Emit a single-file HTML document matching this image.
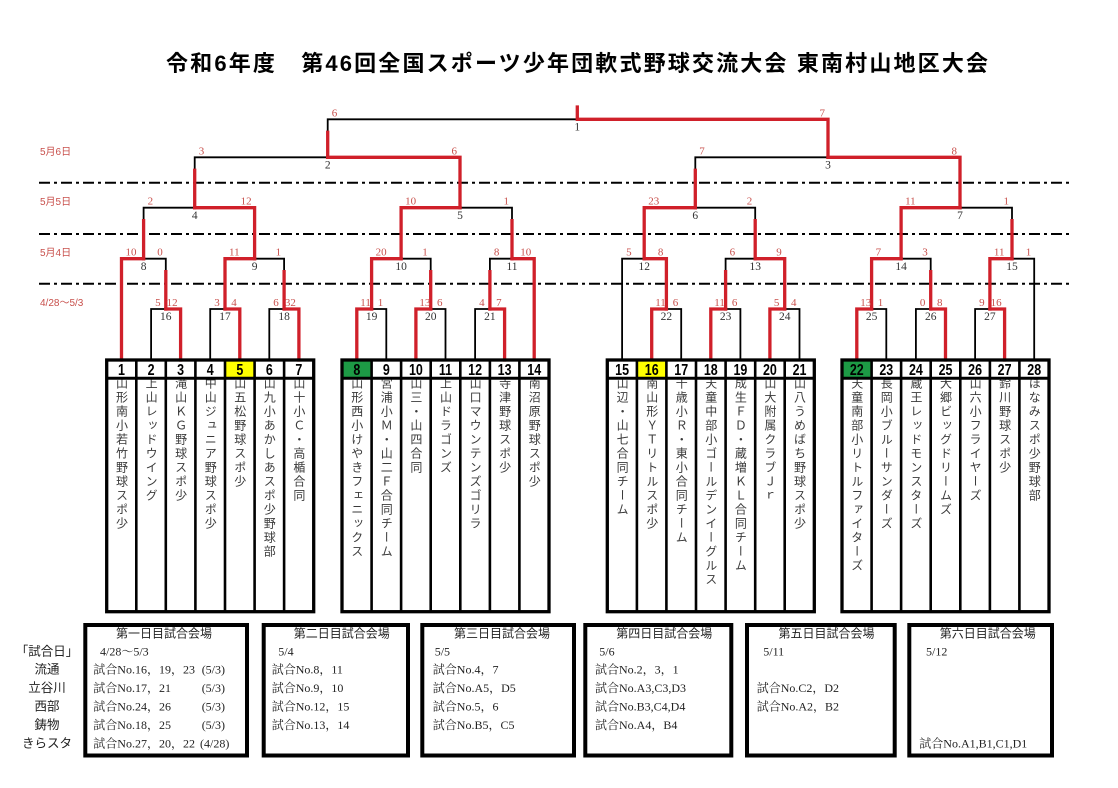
<!DOCTYPE html>
<html><head><meta charset="utf-8">
<style>
html,body{margin:0;padding:0;background:#fff;}
body{width:1118px;height:788px;position:relative;overflow:hidden;}
.nm{position:absolute;top:377.3px;width:14px;line-height:14px;writing-mode:vertical-rl;font-size:12px;letter-spacing:2px;color:#3a3a3a;font-family:"Noto Sans CJK JP","Liberation Sans",sans-serif;z-index:1;white-space:nowrap;}
svg{position:absolute;left:0;top:0;z-index:2;}
.sc{fill:#c8504c;font-family:"Liberation Serif",serif;font-size:11px;}
.sr{fill:#c8504c;font-family:"Liberation Serif",serif;font-size:11px;text-anchor:end;}
.nd{fill:#333;font-family:"Liberation Serif",serif;font-size:11.5px;text-anchor:middle;}
.dt{fill:#c8504c;font-family:"Liberation Sans","Noto Sans CJK JP",sans-serif;font-size:10px;}
.tn{font-family:"Liberation Sans",sans-serif;font-weight:bold;font-size:16px;text-anchor:middle;fill:#000;}
.hd{font-family:"Liberation Sans","Noto Sans CJK JP",sans-serif;font-size:12px;text-anchor:middle;fill:#222;}
.rw{font-family:"Liberation Serif","Noto Serif CJK SC",serif;font-size:12px;fill:#222;}
.lb{font-family:"Liberation Sans","Noto Sans CJK JP",sans-serif;font-size:12.5px;text-anchor:middle;fill:#222;}
</style></head><body>

<div class="nm" style="left:114.5px">山形南小若竹野球スポ少</div>
<div class="nm" style="left:144.1px">上山レッドウイング</div>
<div class="nm" style="left:173.6px">滝山ＫＧ野球スポ少</div>
<div class="nm" style="left:203.2px">中山ジュニア野球スポ少</div>
<div class="nm" style="left:232.8px">山五松野球スポ少</div>
<div class="nm" style="left:262.3px">山九小あかしあスポ少野球部</div>
<div class="nm" style="left:291.9px">山十小Ｃ・高楯合同</div>
<div class="nm" style="left:349.8px">山形西小けやきフェニックス</div>
<div class="nm" style="left:379.3px">宮浦小Ｍ・山二Ｆ合同チーム</div>
<div class="nm" style="left:408.9px">山三・山四合同</div>
<div class="nm" style="left:438.5px">上山ドラゴンズ</div>
<div class="nm" style="left:468.1px">山口マウンテンズゴリラ</div>
<div class="nm" style="left:497.6px">寺津野球スポ少</div>
<div class="nm" style="left:527.2px">南沼原野球スポ少</div>
<div class="nm" style="left:615.1px">山辺・山七合同チーム</div>
<div class="nm" style="left:644.7px">南山形ＹＴリトルスポ少</div>
<div class="nm" style="left:674.2px">千歳小Ｒ・東小合同チーム</div>
<div class="nm" style="left:703.8px">天童中部小ゴールデンイーグルス</div>
<div class="nm" style="left:733.4px">成生ＦＤ・蔵増ＫＬ合同チーム</div>
<div class="nm" style="left:762.9px">山大附属クラブＪｒ</div>
<div class="nm" style="left:792.5px">山八うめばち野球スポ少</div>
<div class="nm" style="left:849.8px">天童南部小リトルファイターズ</div>
<div class="nm" style="left:879.3px">長岡小ブルーサンダーズ</div>
<div class="nm" style="left:908.9px">蔵王レッドモンスターズ</div>
<div class="nm" style="left:938.5px">大郷ビッグドリームズ</div>
<div class="nm" style="left:968.1px">山六小フライヤーズ</div>
<div class="nm" style="left:997.6px">鈴川野球スポ少</div>
<div class="nm" style="left:1027.2px">ほなみスポ少野球部</div>

<svg width="1118" height="788" viewBox="0 0 1118 788" xmlns="http://www.w3.org/2000/svg">
<!-- title -->
<text x="166" y="71" font-size="22" font-weight="bold" textLength="822" lengthAdjust="spacing" font-family="'Liberation Sans','Noto Sans CJK JP',sans-serif" fill="#000">令和6年度　第46回全国スポーツ少年団軟式野球交流大会 東南村山地区大会</text>

<!-- date labels -->
<text class="dt" x="40" y="155">5月6日</text>
<text class="dt" x="40" y="205">5月5日</text>
<text class="dt" x="40" y="256">5月4日</text>
<text class="dt" x="40" y="306">4/28～5/3</text>

<!-- dash lines -->
<g stroke="#000" stroke-width="2" stroke-dasharray="11 4 3 4" fill="none">
<line x1="39" y1="182.7" x2="1072" y2="182.7"/>
<line x1="39" y1="234" x2="1072" y2="234"/>
<line x1="39" y1="283.7" x2="1072" y2="283.7"/>
</g>

<!-- black bracket lines -->
<g stroke="#000" stroke-width="1.8" fill="none">
<path d="M165.8 309H151.1V360M225 309H210.2V360M284.1 309H269.3V360M371.6 309H386.3V360M430.7 309H445.5V360M489.9 309H475.1V360"/>
<path d="M666.4 309H681.2V360M725.6 309H740.4V360M784.7 309H799.5V360M871.6 309H886.3V360M930.7 309H915.9V360M989.9 309H975.1V360"/>
<path d="M143.6 258.7H165.8V271.7M254.6 258.7H284.1V271.7M401.1 258.7H430.7V271.7M512 258.7H489.9V271.7M644.2 258.7H622.1V360M755.2 258.7H725.6V271.7M901.1 258.7H930.7V271.7M1012 258.7H1034.2V360"/>
<path d="M194.7 207.7H143.6V220.7M460 207.7H512V220.7M695.3 207.7H755.2V220.7M960 207.7H1012V220.7"/>
<path d="M327.7 157.3H194.7V170.3M828 157.3H695.3V170.3"/>
<path d="M577.3 119.3H327.7V132.3"/>
</g>

<!-- red bracket lines -->
<g stroke="#d0202a" stroke-width="3.3" fill="none" stroke-linecap="square" stroke-linejoin="miter">
<path d="M165.8 309H180.6V360M225 309H239.8V360M284.1 309H298.9V360M371.6 309H356.8V360M430.7 309H415.9V360M489.9 309H504.6V360"/>
<path d="M666.4 309H651.7V360M725.6 309H710.8V360M784.7 309H769.9V360M871.6 309H856.8V360M930.7 309H945.5V360M989.9 309H1004.6V360"/>
<path d="M143.6 258.7H121.5V360M165.8 271.7V309M254.6 258.7H225V309M284.1 271.7V309M401.1 258.7H371.6V309M430.7 271.7V309M512 258.7H534.2V360M489.9 271.7V309"/>
<path d="M644.2 258.7H666.4V309M755.2 258.7H784.7V309M725.6 271.7V309M901.1 258.7H871.6V309M930.7 271.7V309M1012 258.7H989.9V309"/>
<path d="M194.7 207.7H254.6V258.7M143.6 220.7V258.7M460 207.7H401.1V258.7M512 220.7V258.7M695.3 207.7H644.2V258.7M755.2 220.7V258.7M960 207.7H901.1V258.7M1012 220.7V258.7"/>
<path d="M327.7 157.3H460V207.7M194.7 170.3V207.7M828 157.3H960V207.7M695.3 170.3V207.7"/>
<path d="M577.3 107V119.3H828V157.3M327.7 132.3V157.3"/>
</g>

<!-- score labels -->
<g>
<text class="sc" x="331.7" y="116.3">6</text><text class="sr" x="825" y="116.3">7</text>
<text class="sc" x="198.7" y="154.3">3</text><text class="sr" x="457" y="154.3">6</text>
<text class="sc" x="699.3" y="154.3">7</text><text class="sr" x="957" y="154.3">8</text>
<text class="sc" x="147.6" y="204.7">2</text><text class="sr" x="251.6" y="204.7">12</text>
<text class="sc" x="405.1" y="204.7">10</text><text class="sr" x="509" y="204.7">1</text>
<text class="sc" x="648.2" y="204.7">23</text><text class="sr" x="752.2" y="204.7">2</text>
<text class="sc" x="905.1" y="204.7">11</text><text class="sr" x="1009" y="204.7">1</text>
<text class="sc" x="125.5" y="255.7">10</text><text class="sr" x="162.8" y="255.7">0</text>
<text class="sc" x="229" y="255.7">11</text><text class="sr" x="281.1" y="255.7">1</text>
<text class="sc" x="375.6" y="255.7">20</text><text class="sr" x="427.7" y="255.7">1</text>
<text class="sc" x="493.9" y="255.7">8</text><text class="sr" x="531.2" y="255.7">10</text>
<text class="sc" x="626.1" y="255.7">5</text><text class="sr" x="663.4" y="255.7">8</text>
<text class="sc" x="729.6" y="255.7">6</text><text class="sr" x="781.7" y="255.7">9</text>
<text class="sc" x="875.6" y="255.7">7</text><text class="sr" x="927.7" y="255.7">3</text>
<text class="sc" x="993.9" y="255.7">11</text><text class="sr" x="1031.2" y="255.7">1</text>
<text class="sc" x="155.1" y="306">5</text><text class="sr" x="177.6" y="306">12</text>
<text class="sc" x="214.2" y="306">3</text><text class="sr" x="236.8" y="306">4</text>
<text class="sc" x="273.3" y="306">6</text><text class="sr" x="295.9" y="306">32</text>
<text class="sc" x="360.3" y="306">11</text><text class="sr" x="383.3" y="306">1</text>
<text class="sc" x="419.4" y="306">13</text><text class="sr" x="442.5" y="306">6</text>
<text class="sc" x="479.1" y="306">4</text><text class="sr" x="501.6" y="306">7</text>
<text class="sc" x="655.2" y="306">11</text><text class="sr" x="678.2" y="306">6</text>
<text class="sc" x="714.3" y="306">11</text><text class="sr" x="737.4" y="306">6</text>
<text class="sc" x="773.9" y="306">5</text><text class="sr" x="796.5" y="306">4</text>
<text class="sc" x="860.3" y="306">13</text><text class="sr" x="883.3" y="306">1</text>
<text class="sc" x="919.9" y="306">0</text><text class="sr" x="942.5" y="306">8</text>
<text class="sc" x="979.1" y="306">9</text><text class="sr" x="1001.6" y="306">16</text>
</g>

<!-- node labels -->
<g>
<text class="nd" x="577.3" y="130.5">1</text>
<text class="nd" x="327.7" y="168.5">2</text><text class="nd" x="828" y="168.5">3</text>
<text class="nd" x="194.7" y="218.9">4</text><text class="nd" x="460" y="218.9">5</text><text class="nd" x="695.3" y="218.9">6</text><text class="nd" x="960" y="218.9">7</text>
<text class="nd" x="143.6" y="269.9">8</text><text class="nd" x="254.6" y="269.9">9</text><text class="nd" x="401.1" y="269.9">10</text><text class="nd" x="512" y="269.9">11</text>
<text class="nd" x="644.2" y="269.9">12</text><text class="nd" x="755.2" y="269.9">13</text><text class="nd" x="901.1" y="269.9">14</text><text class="nd" x="1012" y="269.9">15</text>
<text class="nd" x="165.8" y="320">16</text><text class="nd" x="225" y="320">17</text><text class="nd" x="284.1" y="320">18</text><text class="nd" x="371.6" y="320">19</text><text class="nd" x="430.7" y="320">20</text><text class="nd" x="489.9" y="320">21</text>
<text class="nd" x="666.4" y="320">22</text><text class="nd" x="725.6" y="320">23</text><text class="nd" x="784.7" y="320">24</text><text class="nd" x="871.6" y="320">25</text><text class="nd" x="930.7" y="320">26</text><text class="nd" x="989.9" y="320">27</text>
</g>

<!-- number cell fills -->
<rect x="225" y="360" width="29.6" height="18.3" fill="#ffff00"/>
<rect x="342" y="360" width="29.6" height="18.3" fill="#1d9a45"/>
<rect x="636.9" y="360" width="29.5" height="18.3" fill="#ffff00"/>
<rect x="842" y="360" width="29.6" height="18.3" fill="#1d9a45"/>

<!-- team boxes -->
<g stroke="#000" fill="none">
<rect x="106.7" y="360" width="207" height="251.7" stroke-width="3.3"/>
<rect x="342" y="360" width="207" height="251.7" stroke-width="3.3"/>
<rect x="607.3" y="360" width="207" height="251.7" stroke-width="3.3"/>
<rect x="842" y="360" width="207" height="251.7" stroke-width="3.3"/>
<path stroke-width="3" d="M106.7 378.3H313.7M342 378.3H549M607.3 378.3H814.3M842 378.3H1049"/>
<path stroke-width="2.6" d="M136.3 360V611.7M165.8 360V611.7M195.4 360V611.7M225 360V611.7M254.6 360V611.7M284.1 360V611.7M371.6 360V611.7M401.1 360V611.7M430.7 360V611.7M460.3 360V611.7M489.9 360V611.7M519.4 360V611.7M636.9 360V611.7M666.4 360V611.7M696 360V611.7M725.6 360V611.7M755.2 360V611.7M784.7 360V611.7M871.6 360V611.7M901.1 360V611.7M930.7 360V611.7M960.3 360V611.7M989.9 360V611.7M1019.4 360V611.7"/>
</g>

<!-- team numbers -->
<g class="tn">
<text transform="translate(121.5 375) scale(0.78 1)">1</text>
<text transform="translate(151.1 375) scale(0.78 1)">2</text>
<text transform="translate(180.6 375) scale(0.78 1)">3</text>
<text transform="translate(210.2 375) scale(0.78 1)">4</text>
<text transform="translate(239.8 375) scale(0.78 1)">5</text>
<text transform="translate(269.3 375) scale(0.78 1)">6</text>
<text transform="translate(298.9 375) scale(0.78 1)">7</text>
<text transform="translate(356.8 375) scale(0.78 1)">8</text>
<text transform="translate(386.3 375) scale(0.78 1)">9</text>
<text transform="translate(415.9 375) scale(0.78 1)">10</text>
<text transform="translate(445.5 375) scale(0.78 1)">11</text>
<text transform="translate(475.1 375) scale(0.78 1)">12</text>
<text transform="translate(504.6 375) scale(0.78 1)">13</text>
<text transform="translate(534.2 375) scale(0.78 1)">14</text>
<text transform="translate(622.1 375) scale(0.78 1)">15</text>
<text transform="translate(651.7 375) scale(0.78 1)">16</text>
<text transform="translate(681.2 375) scale(0.78 1)">17</text>
<text transform="translate(710.8 375) scale(0.78 1)">18</text>
<text transform="translate(740.4 375) scale(0.78 1)">19</text>
<text transform="translate(769.9 375) scale(0.78 1)">20</text>
<text transform="translate(799.5 375) scale(0.78 1)">21</text>
<text transform="translate(856.8 375) scale(0.78 1)">22</text>
<text transform="translate(886.3 375) scale(0.78 1)">23</text>
<text transform="translate(915.9 375) scale(0.78 1)">24</text>
<text transform="translate(945.5 375) scale(0.78 1)">25</text>
<text transform="translate(975.1 375) scale(0.78 1)">26</text>
<text transform="translate(1004.6 375) scale(0.78 1)">27</text>
<text transform="translate(1034.2 375) scale(0.78 1)">28</text>
</g>

<!-- bottom boxes -->
<g stroke="#000" stroke-width="4" fill="none">
<rect x="85.3" y="625" width="161.7" height="130.5"/>
<rect x="263.7" y="625" width="144.3" height="130.5"/>
<rect x="422.3" y="625" width="151.7" height="130.5"/>
<rect x="585.3" y="625" width="146" height="130.5"/>
<rect x="747" y="625" width="147.7" height="130.5"/>
<rect x="909.3" y="625" width="142.7" height="130.5"/>
</g>

<!-- left labels -->
<text class="lb" x="47" y="655.5">「試合日」</text>
<text class="lb" x="47" y="673.5">流通</text>
<text class="lb" x="47" y="692">立谷川</text>
<text class="lb" x="47" y="710.5">西部</text>
<text class="lb" x="47" y="729">鋳物</text>
<text class="lb" x="47" y="747.5">きらスタ</text>

<!-- headers -->
<text class="hd" x="164" y="637.5">第一日目試合会場</text>
<text class="hd" x="341.7" y="637.5">第二日目試合会場</text>
<text class="hd" x="502" y="637.5">第三日目試合会場</text>
<text class="hd" x="664.2" y="637.5">第四日目試合会場</text>
<text class="hd" x="826.5" y="637.5">第五日目試合会場</text>
<text class="hd" x="987.8" y="637.5">第六日目試合会場</text>

<!-- box 1 -->
<text class="rw" x="100" y="655.5">4/28～5/3</text>
<text class="rw" x="93.3" y="673.5">試合No.16，19，23</text><text class="rw" x="201.7" y="673.5">(5/3)</text>
<text class="rw" x="93.3" y="692">試合No.17，21</text><text class="rw" x="201.7" y="692">(5/3)</text>
<text class="rw" x="93.3" y="710.5">試合No.24，26</text><text class="rw" x="201.7" y="710.5">(5/3)</text>
<text class="rw" x="93.3" y="729">試合No.18，25</text><text class="rw" x="201.7" y="729">(5/3)</text>
<text class="rw" x="93.3" y="747.5">試合No.27，20，22</text><text class="rw" x="200" y="747.5">(4/28)</text>

<!-- box 2 -->
<text class="rw" x="278.3" y="655.5">5/4</text>
<text class="rw" x="271.7" y="673.5">試合No.8，11</text>
<text class="rw" x="271.7" y="692">試合No.9，10</text>
<text class="rw" x="271.7" y="710.5">試合No.12，15</text>
<text class="rw" x="271.7" y="729">試合No.13，14</text>

<!-- box 3 -->
<text class="rw" x="434.7" y="655.5">5/5</text>
<text class="rw" x="432.8" y="673.5">試合No.4，7</text>
<text class="rw" x="432.8" y="692">試合No.A5，D5</text>
<text class="rw" x="432.8" y="710.5">試合No.5，6</text>
<text class="rw" x="432.8" y="729">試合No.B5，C5</text>

<!-- box 4 -->
<text class="rw" x="599.3" y="655.5">5/6</text>
<text class="rw" x="595" y="673.5">試合No.2，3，1</text>
<text class="rw" x="595" y="692">試合No.A3,C3,D3</text>
<text class="rw" x="595" y="710.5">試合No.B3,C4,D4</text>
<text class="rw" x="595" y="729">試合No.A4，B4</text>

<!-- box 5 -->
<text class="rw" x="763.3" y="655.5">5/11</text>
<text class="rw" x="756.7" y="692">試合No.C2，D2</text>
<text class="rw" x="756.7" y="710.5">試合No.A2，B2</text>

<!-- box 6 -->
<text class="rw" x="926" y="655.5">5/12</text>
<text class="rw" x="919.3" y="747.5">試合No.A1,B1,C1,D1</text>
</svg>
</body></html>
